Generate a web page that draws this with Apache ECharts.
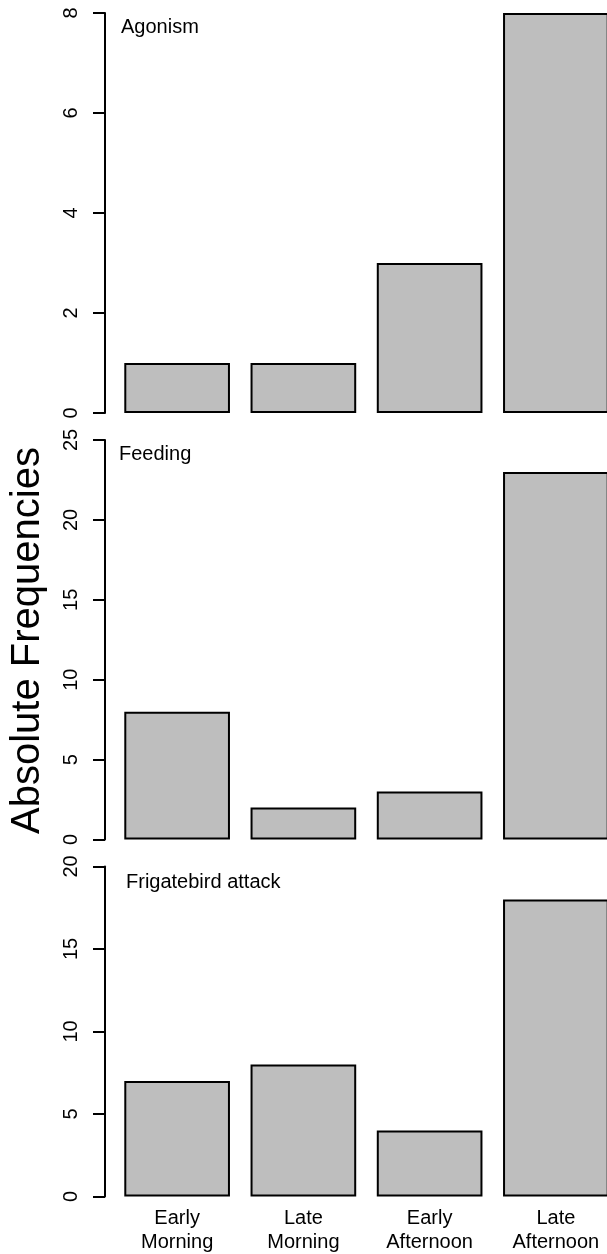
<!DOCTYPE html>
<html>
<head>
<meta charset="utf-8">
<script src="https://cdn.jsdelivr.net/npm/echarts@6/dist/echarts.min.js"></script>
<style>
html,body{margin:0;padding:0;background:#fff;}
#c{width:607px;height:1254px;}
</style>
</head>
<body>
<div id="c"></div>
<script>
// Data
var categories = ["Early Morning", "Late Morning", "Early Afternoon", "Late Afternoon"];
var panelTitles = ["Agonism", "Feeding", "Frigatebird attack"];
var agonism = [1, 1, 3, 8];
var feeding = [8, 2, 3, 23];
var frigatebird = [7, 8, 4, 18];
var yMax = [8, 25, 20];
var yInterval = [2, 5, 5];
var yAxisTitle = "Absolute Frequencies";

var FONT = '"Liberation Sans", Arial, sans-serif';
var seriesData = [agonism, feeding, frigatebird];
var grids = [
  {left: 114, top: 13, width: 505, height: 400, outerBoundsMode: 'none', containLabel: false},
  {left: 114, top: 440, width: 505, height: 399.5, outerBoundsMode: 'none', containLabel: false},
  {left: 114, top: 866.5, width: 505, height: 330, outerBoundsMode: 'none', containLabel: false}
];
var titleTops = [[121, 17], [119, 444], [126, 872]];

var chart = echarts.init(document.getElementById('c'), null, {renderer: 'canvas'});
var option = {
  backgroundColor: '#ffffff',
  animation: false,
  grid: grids,
  title: panelTitles.map(function (t, i) {
    return {text: t, left: titleTops[i][0], top: titleTops[i][1], padding: 0,
      textStyle: {fontFamily: FONT, fontSize: 20, fontWeight: 'normal', color: '#000', lineHeight: 20}};
  }),
  xAxis: seriesData.map(function (d, i) {
    return {
      type: 'category', gridIndex: i, data: categories, boundaryGap: true,
      axisLine: {show: false}, axisTick: {show: false}, splitLine: {show: false},
      axisLabel: {
        show: i === 2, interval: 0, margin: 10, color: '#000', fontFamily: FONT, fontSize: 20, lineHeight: 24,
        formatter: function (v) { return v.replace(' ', '\n'); }
      }
    };
  }),
  yAxis: seriesData.map(function (d, i) {
    return {
      type: 'value', gridIndex: i, min: 0, max: yMax[i], interval: yInterval[i], offset: 9,
      axisLine: {show: true, lineStyle: {color: '#000', width: 2}},
      axisTick: {show: true, length: 12, lineStyle: {color: '#000', width: 2}},
      splitLine: {show: false},
      axisLabel: {rotate: 90, margin: 24, color: '#000', fontFamily: FONT, fontSize: 20}
    };
  }),
  series: seriesData.map(function (d, i) {
    return {
      type: 'bar', xAxisIndex: i, yAxisIndex: i, data: d, barCategoryGap: '16.3%',
      itemStyle: {color: '#BEBEBE', borderColor: '#000', borderWidth: 2}
    };
  }),
  graphic: [{
    type: 'text', x: 28, y: 640.5, rotation: Math.PI / 2,
    style: {text: yAxisTitle, font: '40px ' + FONT, fill: '#000', align: 'center', verticalAlign: 'middle'}
  }]
};
chart.setOption(option);
</script>
</body>
</html>
